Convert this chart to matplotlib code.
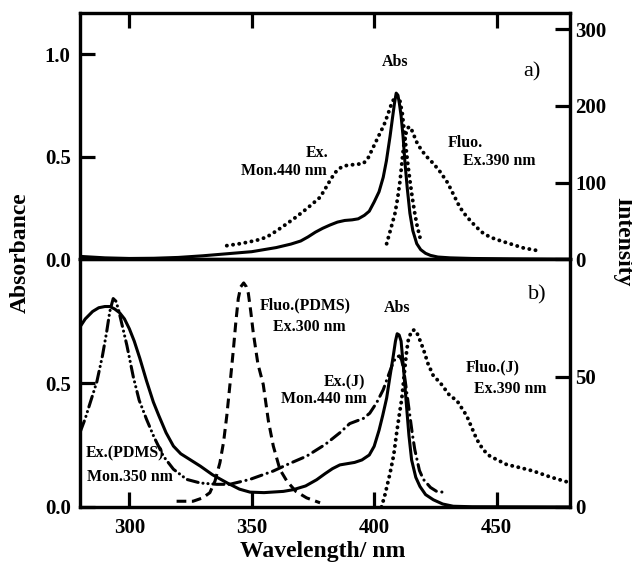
import matplotlib
matplotlib.use("Agg")
import matplotlib.pyplot as plt

plt.rcParams['font.family'] = ['Liberation Serif', 'DejaVu Serif']
plt.rcParams['font.weight'] = 'bold'
plt.rcParams['lines.scale_dashes'] = False
plt.rcParams['lines.solid_joinstyle'] = 'round'
plt.rcParams['lines.dash_joinstyle'] = 'round'

# ---------------- data (a) ----------------
abs_a_wl = [280, 290, 300, 310, 320, 330, 340, 350, 360, 366, 370, 373, 376, 379, 382, 385,
            388, 391, 393.5, 396, 398, 400, 402, 403.7, 405, 406.5, 407.5, 408.3, 409,
            409.7, 410.3, 411, 411.8, 412.6, 413.5, 414.6, 415.8, 417.4, 419, 421, 423, 426,
            431, 440, 455, 480]
abs_a_val = [0.015, 0.008, 0.005, 0.006, 0.01, 0.018, 0.028, 0.038, 0.058, 0.075, 0.09, 0.11,
             0.133, 0.152, 0.168, 0.182, 0.19, 0.193, 0.198, 0.215, 0.235, 0.28, 0.33, 0.40,
             0.48, 0.60, 0.69, 0.76, 0.81, 0.80, 0.76, 0.70, 0.60, 0.47, 0.35, 0.225, 0.14,
             0.077, 0.048, 0.03, 0.02, 0.012, 0.008, 0.005, 0.003, 0.001]

ex_a_wl = [339.8, 346, 352, 356, 360, 364.3, 368, 372.4, 375, 377.9, 380, 382, 384, 386, 388,
           390, 393, 395.6, 397.5, 399.6, 402, 404, 405.5, 407, 408.5, 409.5, 410.5, 411.5,
           412.6, 413.6, 414.6, 415.6, 416.6, 417.6, 418.7]
ex_a_val = [18, 21, 25, 29, 37, 46.5, 55, 66, 73, 81, 92, 103, 113, 119, 122, 123, 124, 125,
            132, 146, 162, 175, 188, 202, 212, 213, 207, 190, 158, 128, 103, 80, 60, 43, 29]

fl_a_wl = [405.1, 406.8, 408.5, 409.6, 410.6, 411.3, 412, 412.8, 413.6, 414.5, 415.3, 416.2,
           417.5, 419.4, 422, 424.2, 427, 430, 432.5, 435, 437.5, 440, 442.5, 444.6, 447.5,
           450, 455.5, 461, 467.7]
fl_a_val = [20.5, 40, 60, 80, 103, 125, 146, 162, 171, 173, 169, 162, 152, 142, 132, 125, 114,
            100, 84, 68, 57, 48, 40, 34, 29, 26, 20.5, 15, 11]

# ---------------- data (b) ----------------
abs_b_wl = [280, 282, 285, 287.5, 290, 292, 294, 296, 298, 300, 302, 304.3, 307, 309.8, 312,
            315, 318, 321, 325, 329, 334, 340, 345, 349.3, 355, 362.9, 367, 372, 376.5, 380,
            383, 386, 389, 392, 395, 398, 400, 402, 403.5, 405.1, 406.5, 407.8, 408.7, 409.4,
            410.2, 411, 412, 413.2, 414.2, 415.3, 417, 418.7, 421, 424.2, 428, 432.3, 440,
            480]
abs_b_val = [0.73, 0.76, 0.79, 0.805, 0.81, 0.81, 0.80, 0.785, 0.76, 0.72, 0.67, 0.60, 0.51,
             0.424, 0.37, 0.30, 0.246, 0.215, 0.19, 0.165, 0.13, 0.097, 0.072, 0.06, 0.058,
             0.063, 0.07, 0.085, 0.11, 0.135, 0.155, 0.17, 0.175, 0.18, 0.19, 0.21, 0.245,
             0.31, 0.37, 0.44, 0.53, 0.61, 0.67, 0.70, 0.695, 0.67, 0.56, 0.41, 0.29, 0.19,
             0.12, 0.083, 0.05, 0.029, 0.012, 0.003, 0.001, 0.0]

expdms_wl = [280, 282, 284, 286.7, 289, 290.7, 292, 293.4, 294.5, 295.5, 297, 299, 301.6,
             304, 307, 310, 313.9, 318, 323.4, 329, 335.7, 341]
expdms_val = [29, 34, 40, 48, 58, 67, 75, 80, 79, 76, 70, 62, 50, 41, 33.7, 27, 19.5, 14.5,
              10.6, 9.2, 8.7, 8.7]

exj_wl = [341, 349.3, 358.8, 365, 372.4, 380, 386, 390, 395.6, 398.2, 401, 403.7, 406,
          407.8, 409, 410.3, 411.2, 412, 412.6, 413.6, 414.6, 415.6, 416.6, 418.5, 420.1,
          423, 425.5, 429.6]
exj_val = [8.7, 10.6, 13.8, 16.5, 19.5, 24, 28.5, 32, 34, 36, 40, 45, 51, 55.5, 57.5, 58,
           56.5, 53, 49, 42, 35, 28, 22, 14, 10.6, 7.5, 6, 5.5]

flpdms_wl = [319.3, 326, 330, 332.9, 335, 337, 338.5, 339.8, 341.2, 342.5, 343.5, 344.5,
             345.5, 346.7, 347.8, 348.6, 349.6, 350.6, 352.5, 354.7, 356.8, 358.8, 361.5,
             364.3, 368, 372.4, 377.9]
flpdms_val = [2.2, 2.2, 3.5, 5.5, 10, 17, 25, 35, 48, 60.5, 71, 80, 84.5, 86, 84.5, 82, 75,
              67, 55, 47, 33, 23.4, 14.4, 10, 6, 3.5, 1.6]

flj_wl = [403, 404.5, 406.5, 408, 409.2, 410.2, 411.2, 412, 412.6, 413.3, 414, 415.3, 416.5,
          417.4, 418.7, 420.1, 422, 424.2, 426.9, 431, 433.7, 437.8, 441.9, 444.5, 447.3,
          454.1, 460, 465, 472, 480]
flj_val = [0, 5, 13, 20, 28.5, 35, 41, 48, 54, 60, 64.4, 67.6, 68, 67, 64, 60.6, 55, 50.3,
           47.8, 42.6, 41, 35, 26, 22, 19.5, 16.3, 15, 13.8, 11.5, 9.3]

xticks = [300, 350, 400, 450]

# ---------------- styles ----------------
LW = 2.2
SPW = 2.3
dot = (0, (0.1, 4.4))
dash = (0, (7, 4))
dashdot = (0, (8, 4, 0.1, 4))
dashdotdot = (0, (8, 3.5, 0.1, 3.5, 0.1, 3.5))

fig = plt.figure(figsize=(6.32, 5.63), dpi=100)
L, R = 0.1272, 0.9019
top_t, mid, bot_b = 0.9769, 0.5391, 0.0995
axA = fig.add_axes([L, mid, R - L, top_t - mid])
axB = fig.add_axes([L, bot_b, R - L, mid - bot_b])
axA2 = axA.twinx()
axB2 = axB.twinx()

for ax in (axA, axB, axA2, axB2):
    for s in ax.spines.values():
        s.set_linewidth(SPW)
    ax.set_xlim(280, 480)

tick_kw = dict(direction='in', length=11, width=SPW, labelsize=15)

# top panel
axA.set_ylim(0, 1.2)
axA.set_yticks([0.0, 0.5, 1.0])
axA.set_yticklabels(['0.0', '0.5', '1.0'])
axA.set_xticks(xticks)
axA.tick_params(axis='x', top=True, bottom=False, labelbottom=False, labeltop=False,
                **tick_kw)
axA.tick_params(axis='y', left=True, right=False, pad=7, **tick_kw)
axA2.set_ylim(0, 321)
axA2.set_yticks([0, 100, 200, 300])
axA2.tick_params(axis='y', right=True, pad=4, **tick_kw)
axA2.tick_params(axis='x', top=False, bottom=False, labelbottom=False)

axA.plot(abs_a_wl, abs_a_val, color='black', lw=LW, solid_capstyle='round')
axA2.plot(ex_a_wl, ex_a_val, color='black', lw=LW + 0.6, linestyle=dot,
          dash_capstyle='round')
axA2.plot(fl_a_wl, fl_a_val, color='black', lw=LW + 0.6, linestyle=dot,
          dash_capstyle='round')

# bottom panel
axB.set_ylim(0, 1.0)
axB.set_yticks([0.0, 0.5])
axB.set_yticklabels(['0.0', '0.5'])
axB.set_xticks(xticks)
axB.set_xticklabels([str(v) for v in xticks])
axB.tick_params(axis='x', top=False, bottom=True, pad=8, **tick_kw)
axB.tick_params(axis='y', left=True, right=False, pad=7, **tick_kw)
axB2.set_ylim(0, 95)
axB2.set_yticks([0, 50])
axB2.tick_params(axis='y', right=True, pad=4, **tick_kw)
axB2.tick_params(axis='x', top=False, bottom=False, labelbottom=False)

axB.plot(abs_b_wl, abs_b_val, color='black', lw=LW, solid_capstyle='round')
axB2.plot(expdms_wl, expdms_val, color='black', lw=LW, linestyle=dashdotdot,
          dash_capstyle='round')
axB2.plot(exj_wl, exj_val, color='black', lw=LW, linestyle=dashdot,
          dash_capstyle='round')
axB2.plot(flpdms_wl, flpdms_val, color='black', lw=LW, linestyle=dash)
axB2.plot(flj_wl, flj_val, color='black', lw=LW + 0.6, linestyle=dot,
          dash_capstyle='round')

for ax in (axA, axB, axA2, axB2):
    for lab in ax.get_xticklabels() + ax.get_yticklabels():
        lab.set_fontweight('bold')

# annotations
fs = 11.4
def txt(ax, x, y, s, ha='left', size=fs, weight='bold'):
    ax.text(x, y, s, transform=ax.transAxes, ha=ha, va='center', fontsize=size,
            fontweight=weight)

txt(axA, 0.6426, 0.801, 'Abs', ha='center')
txt(axA, 0.922, 0.760, 'a)', ha='center', size=16, weight='normal')
txt(axA, 0.5057, 0.431, 'Ex.', ha='right')
txt(axA, 0.5035, 0.358, 'Mon.440 nm', ha='right')
txt(axA, 0.7507, 0.4715, 'Fluo.')
txt(axA, 0.7815, 0.398, 'Ex.390 nm')

txt(axB, 0.3668, 0.815, 'Fluo.(PDMS)')
txt(axB, 0.394, 0.727, 'Ex.300 nm')
txt(axB, 0.5813, 0.504, 'Ex.(J)', ha='right')
txt(axB, 0.585, 0.437, 'Mon.440 nm', ha='right')
txt(axB, 0.0114, 0.217, 'Ex.(PDMS)')
txt(axB, 0.0128, 0.123, 'Mon.350 nm')
txt(axB, 0.6477, 0.804, 'Abs', ha='center')
txt(axB, 0.934, 0.858, 'b)', ha='center', size=16, weight='normal')
txt(axB, 0.7876, 0.565, 'Fluo.(J)')
txt(axB, 0.8045, 0.478, 'Ex.390 nm')

fig.text(0.032, 0.552, 'Absorbance', rotation=90, ha='center', va='center',
         fontsize=17, fontweight='bold')
fig.text(0.985, 0.570, 'Intensity', rotation=-90, ha='center', va='center',
         fontsize=17, fontweight='bold')
fig.text(0.51, 0.02, 'Wavelength/ nm', ha='center', va='center',
         fontsize=17, fontweight='bold')

fig.savefig('out.png', dpi=100)
